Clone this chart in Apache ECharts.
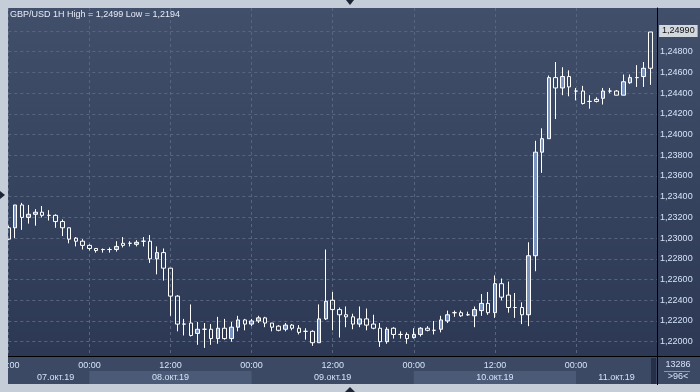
<!DOCTYPE html>
<html><head><meta charset="utf-8">
<script src="https://cdn.jsdelivr.net/npm/echarts@6/dist/echarts.min.js"></script>
<style>html,body{margin:0;padding:0;background:#c5cdd8;}#c{width:700px;height:392px;}</style>
</head><body><div id="c"></div>
<script>
// GBP/USD 1H candles, 07.10.2019 12:00 -> 11.10.2019 11:00
const open = [
1.2310,1.2310,1.2332,1.2320,1.2323,1.2325,1.2322,1.2322,1.2316,1.2310,1.2300,1.2297,
1.2293,1.2290,1.2289,1.2289,1.2289,1.2295,1.2295,1.2294,1.2297,1.2297,1.2280,1.2286,
1.2271,1.2244,1.2217,1.2218,1.2208,1.2212,1.2212,1.2203,1.2213,1.2203,1.2214,1.2221,
1.2217,1.2220,1.2223,1.2218,1.2215,1.2212,1.2216,1.2213,1.2210,1.2210,1.2199,1.2222,
1.2240,1.2231,1.2226,1.2224,1.2217,1.2222,1.2217,1.2213,1.2200,1.2213,1.2207,1.2207,
1.2204,1.2207,1.2213,1.2211,1.2212,1.2220,1.2228,1.2228,1.2226,1.2225,1.2230,1.2237,
1.2228,1.2256,1.2245,1.2233,1.2233,1.2226,1.2283,1.2383,1.2396,1.2455,1.2445,1.2456,
1.2442,1.2442,1.2432,1.2434,1.2435,1.2442,1.2442,1.2438,1.2450,1.2455,1.2456,1.2464];
const close = [
1.2299,1.2332,1.2320,1.2323,1.2325,1.2322,1.2322,1.2316,1.2310,1.2299,1.2297,1.2293,
1.2290,1.2288,1.2289,1.2289,1.2292,1.2293,1.2295,1.2296,1.2297,1.2280,1.2286,1.2271,
1.2244,1.2217,1.2217,1.2206,1.2212,1.2212,1.2203,1.2213,1.2203,1.2214,1.2221,1.2217,
1.2220,1.2223,1.2218,1.2214,1.2211,1.2216,1.2213,1.2209,1.2210,1.2199,1.2222,1.2239,
1.2231,1.2226,1.2224,1.2217,1.2222,1.2216,1.2213,1.2200,1.2212,1.2207,1.2207,1.2203,
1.2207,1.2213,1.2211,1.2211,1.2221,1.2226,1.2228,1.2225,1.2226,1.2231,1.2237,1.2228,
1.2256,1.2243,1.2233,1.2233,1.2226,1.2283,1.2383,1.2396,1.2455,1.2445,1.2456,1.2446,
1.2442,1.2430,1.2432,1.2432,1.2442,1.2442,1.2438,1.2451,1.2455,1.2455,1.2464,1.2499];
const high = [
1.2312,1.2332,1.2334,1.2332,1.2328,1.2331,1.2327,1.2323,1.2318,1.2310,1.2301,1.2299,
1.2294,1.2290,1.2290,1.2291,1.2297,1.2301,1.2297,1.2298,1.2301,1.2303,1.2292,1.2290,
1.2271,1.2245,1.2222,1.2236,1.2219,1.2218,1.2217,1.2224,1.2222,1.2219,1.2225,1.2222,
1.2222,1.2225,1.2224,1.2218,1.2216,1.2218,1.2217,1.2216,1.2213,1.2211,1.2236,1.2289,
1.2248,1.2233,1.2234,1.2227,1.2234,1.2232,1.2226,1.2218,1.2214,1.2214,1.2210,1.2209,
1.2213,1.2214,1.2215,1.2220,1.2225,1.2230,1.2230,1.2230,1.2229,1.2234,1.2246,1.2248,
1.2264,1.2261,1.2258,1.2247,1.2238,1.2296,1.2394,1.2406,1.2457,1.2470,1.2465,1.2462,
1.2445,1.2447,1.2438,1.2436,1.2445,1.2445,1.2443,1.2458,1.2458,1.2467,1.2470,1.2499];
const low = [
1.2298,1.2300,1.2308,1.2314,1.2312,1.2320,1.2317,1.2310,1.2302,1.2295,1.2292,1.2289,
1.2288,1.2286,1.2286,1.2286,1.2287,1.2291,1.2292,1.2292,1.2292,1.2276,1.2265,1.2259,
1.2225,1.2210,1.2206,1.2205,1.2197,1.2194,1.2197,1.2198,1.2202,1.2200,1.2210,1.2211,
1.2215,1.2218,1.2214,1.2210,1.2210,1.2210,1.2211,1.2207,1.2202,1.2196,1.2199,1.2221,
1.2211,1.2204,1.2214,1.2212,1.2214,1.2211,1.2212,1.2195,1.2198,1.2203,1.2203,1.2198,
1.2203,1.2205,1.2210,1.2207,1.2209,1.2218,1.2224,1.2224,1.2225,1.2214,1.2225,1.2226,
1.2223,1.2240,1.2228,1.2223,1.2217,1.2215,1.2268,1.2363,1.2396,1.2415,1.2438,1.2437,
1.2433,1.2429,1.2425,1.2431,1.2429,1.2440,1.2438,1.2438,1.2449,1.2446,1.2446,1.2448];

const priceLabels = [1.220,1.222,1.224,1.226,1.228,1.230,1.232,1.234,1.236,1.238,1.240,1.242,1.244,1.246,1.248];
const priceGrid = [1.220,1.222,1.224,1.226,1.228,1.230,1.232,1.234,1.236,1.238,1.240,1.242,1.244,1.246,1.248,1.250];
const dayLabels = ['07.окт.19','08.окт.19','09.окт.19','10.окт.19','11.окт.19'];
const dayLabelIndex = [7,24,48,72,90];
const dayBands = [[12,36],[60,84]];
const lastPrice = 1.2499;
const titleText = 'GBP/USD 1H High = 1,2499 Low = 1,2194';
const barTotalText = '13286';
const barVisibleText = '>96<';

// hourly categories starting at 12:00 (one trailing empty slot)
const hours = [];
for (let i = 0; i < 97; i++) { const h = (12 + i) % 24; hours.push((h < 10 ? '0' : '') + h + ':00'); }

const fmt = v => v.toFixed(5).replace('.', ',');
const txt = '#d5e3f7';
const FONT = 'Liberation Sans, Arial, sans-serif';

const candles = open.map((o, i) => [o, close[i], low[i], high[i]]);
candles[candles.length - 1] = { value: candles[candles.length - 1], itemStyle: { color: 'rgba(0,0,0,0)' } };

const chart = echarts.init(document.getElementById('c'), null, { renderer: 'canvas' });
chart.setOption({
  backgroundColor: '#c5cdd8',
  animation: false,
  textStyle: { fontFamily: FONT },
  title: { text: titleText, left: 10, top: 10, padding: 0, textStyle: { color: '#e6edf8', fontSize: 9, fontWeight: 'normal', fontFamily: FONT } },
  grid: [
    { left: 8.3, right: 42.9, top: 8, bottom: 35.5, outerBoundsMode: 'none', containLabel: false },
    { left: 8.3, right: 42.9, top: 371, height: 13, outerBoundsMode: 'none', containLabel: false }
  ],
  xAxis: [
    {
      type: 'category', gridIndex: 0, data: hours, boundaryGap: false,
      axisLine: { lineStyle: { color: '#000', width: 1 } },
      axisTick: { show: false },
      axisLabel: { interval: (i) => i % 12 === 0 && i < 96, color: txt, fontSize: 9, margin: 5, fontFamily: FONT },
      splitLine: { show: true, interval: (i) => i % 12 === 0, lineStyle: { color: '#58657f', type: [3, 3], width: 1 } }
    },
    {
      type: 'category', gridIndex: 1, data: hours, boundaryGap: false, z: 20,
      axisLine: { show: false }, axisTick: { show: false }, splitLine: { show: false },
      axisLabel: {
        inside: true, margin: 2, color: txt, fontSize: 9, fontFamily: FONT,
        interval: (i) => dayLabelIndex.indexOf(i) >= 0,
        formatter: (v, i) => { const k = dayLabelIndex.indexOf(i); return k >= 0 ? dayLabels[k] : ''; }
      }
    }
  ],
  yAxis: [
    {
      type: 'value', gridIndex: 0, position: 'right', min: 1.21857, max: 1.25222, scale: true,
      axisLine: { show: true, lineStyle: { color: '#000', width: 1 } },
      axisTick: { show: false, customValues: priceGrid },
      axisLabel: { customValues: priceLabels, formatter: fmt, color: txt, fontSize: 9, margin: 3, fontFamily: FONT },
      splitLine: { show: true, lineStyle: { color: '#58657f', type: [3, 3], width: 1 } }
    },
    { type: 'value', gridIndex: 1, show: false, min: 0, max: 1 }
  ],
  graphic: [
    { type: 'rect', z: -10, shape: { x: 8, y: 8, width: 692, height: 349 },
      style: { fill: new echarts.graphic.LinearGradient(0, 0, 0, 1, [{ offset: 0, color: '#414f6b' }, { offset: 1, color: '#2c3854' }]) } },
    { type: 'rect', z: -10, shape: { x: 8, y: 357, width: 692, height: 27 }, style: { fill: '#3c4964' } },
    { type: 'rect', z: 10, shape: { x: 651, y: 358, width: 5, height: 26 }, style: { fill: '#252f47' } },
    { type: 'line', z: 10, shape: { x1: 657, y1: 356.5, x2: 700, y2: 356.5 }, style: { stroke: '#000', lineWidth: 1 } },
    { type: 'line', z: 10, shape: { x1: 657.5, y1: 356, x2: 657.5, y2: 385 }, style: { stroke: '#000', lineWidth: 1 } },
    { type: 'line', z: 10, shape: { x1: 664, y1: 371.5, x2: 690, y2: 371.5 }, style: { stroke: '#8c98ad', lineWidth: 1 } },
    { type: 'text', z: 10, style: { text: barTotalText, x: 678, y: 365, fill: txt, font: '9px ' + FONT, textAlign: 'center', textVerticalAlign: 'middle' } },
    { type: 'text', z: 10, style: { text: barVisibleText, x: 678, y: 377, fill: txt, font: '9px ' + FONT, textAlign: 'center', textVerticalAlign: 'middle' } },
    { type: 'rect', z: 100, shape: { x: 0, y: 0, width: 8, height: 392 }, style: { fill: '#c5cdd8' } },
    { type: 'polygon', z: 101, shape: { points: [[346, 0], [354, 0], [350, 5]] }, style: { fill: '#1c2435' } },
    { type: 'polygon', z: 101, shape: { points: [[345, 392], [355, 392], [350, 387]] }, style: { fill: '#1c2435' } },
    { type: 'polygon', z: 101, shape: { points: [[0, 191], [0, 199], [5, 195]] }, style: { fill: '#1c2435' } }
  ],
  series: [
    {
      type: 'candlestick', xAxisIndex: 0, yAxisIndex: 0, barWidth: 4, data: candles,
      itemStyle: { color: '#7b94bf', color0: 'rgba(0,0,0,0)', borderColor: '#ffffff', borderColor0: '#ffffff', borderColorDoji: '#ffffff', borderWidth: 1 },
      markLine: {
        silent: true, symbol: ['none', 'none'], animation: false,
        lineStyle: { color: 'rgba(0,0,0,0)', width: 1 },
        label: { show: true, position: 'end', formatter: fmt(lastPrice), color: '#111', backgroundColor: '#d3d7de', padding: [2, 3, 1, 3], fontSize: 9, fontFamily: FONT, distance: 2 },
        data: [{ yAxis: lastPrice }]
      }
    },
    {
      type: 'line', xAxisIndex: 1, yAxisIndex: 1, data: [], silent: true, z: 1,
      markArea: { silent: true, z: 1, itemStyle: { color: '#4b5a77' }, data: dayBands.map(b => [{ xAxis: b[0] }, { xAxis: b[1] }]) }
    }
  ]
});
</script></body></html>
